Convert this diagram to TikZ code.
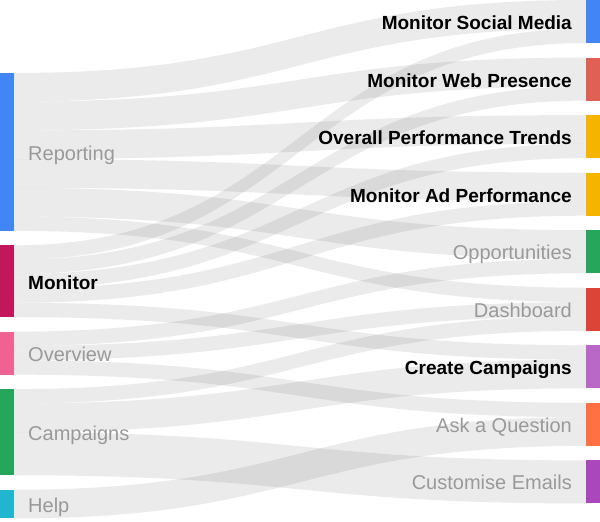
\documentclass[tikz,border=0pt]{standalone}
\usepackage{fontspec}
\setmainfont{Liberation Sans}
\definecolor{cRep}{HTML}{4285F4}
\definecolor{cMon}{HTML}{C2185B}
\definecolor{cOv}{HTML}{F06292}
\definecolor{cCamp}{HTML}{26A65B}
\definecolor{cHelp}{HTML}{22B5CF}
\definecolor{cMSM}{HTML}{4285F4}
\definecolor{cMWP}{HTML}{E06055}
\definecolor{cOPT}{HTML}{F4B400}
\definecolor{cMAP}{HTML}{F4B400}
\definecolor{cOpp}{HTML}{26A65B}
\definecolor{cDash}{HTML}{DB4437}
\definecolor{cCC}{HTML}{BA68C8}
\definecolor{cAQ}{HTML}{FF7043}
\definecolor{cCE}{HTML}{AB47BC}
\definecolor{labgray}{HTML}{999999}
\tikzset{
  bar/.style={draw=none, inner sep=0pt, outer sep=0pt, minimum width=14pt, anchor=north west},
  lab/.style={font=\fontsize{20}{24}\selectfont, text=labgray, inner sep=0pt},
  blab/.style={font=\fontsize{19}{23}\selectfont\bfseries, text=black, inner sep=0pt},
  band/.style={fill=black, fill opacity=0.08, draw=none}
}
\newcommand\sband[4]{\fill[band] (14,#1) .. controls (300,#1) and (300,#3) .. (586,#3) -- (586,#4) .. controls (300,#4) and (300,#2) .. (14,#2) -- cycle;}
\begin{document}
\begin{tikzpicture}[x=1pt,y=-1pt]
\useasboundingbox (0,0) rectangle (600,522);
% Reporting
\sband{73.0}{101.7}{0.0}{28.7}
\sband{101.7}{130.4}{57.55}{86.25}
\sband{130.4}{159.1}{115.1}{143.8}
\sband{159.1}{187.8}{172.65}{201.35}
\sband{187.8}{216.5}{230.2}{258.9}
\sband{216.5}{230.85}{287.75}{302.1}
% Monitor
\sband{245.35}{259.7}{28.7}{43.05}
\sband{259.7}{274.05}{86.25}{100.6}
\sband{274.05}{288.4}{143.8}{158.15}
\sband{288.4}{302.75}{201.35}{215.7}
\sband{302.75}{317.1}{345.3}{359.65}
% Overview
\sband{331.6}{345.95}{258.9}{273.25}
\sband{345.95}{360.3}{302.1}{316.45}
\sband{360.3}{374.65}{402.85}{417.2}
% Campaigns
\sband{389.15}{403.5}{316.45}{330.8}
\sband{403.5}{432.2}{359.65}{388.35}
\sband{432.2}{475.25}{460.4}{503.45}
% Help
\sband{489.75}{518.45}{417.2}{445.9}
% left nodes
\node[bar, fill=cRep,  minimum height=157.85pt] (rep)  at (0,73.0) {};
\node[bar, fill=cMon,  minimum height=71.75pt]  (mon)  at (0,245.35) {};
\node[bar, fill=cOv,   minimum height=43.05pt]  (ov)   at (0,331.6) {};
\node[bar, fill=cCamp, minimum height=86.1pt]   (camp) at (0,389.15) {};
\node[bar, fill=cHelp, minimum height=28.7pt]   (help) at (0,489.75) {};
% right nodes
\node[bar, fill=cMSM,  minimum height=43.05pt] (msm)  at (586,0.0) {};
\node[bar, fill=cMWP,  minimum height=43.05pt] (mwp)  at (586,57.55) {};
\node[bar, fill=cOPT,  minimum height=43.05pt] (opt)  at (586,115.1) {};
\node[bar, fill=cMAP,  minimum height=43.05pt] (map)  at (586,172.65) {};
\node[bar, fill=cOpp,  minimum height=43.05pt] (opp)  at (586,230.2) {};
\node[bar, fill=cDash, minimum height=43.05pt] (dash) at (586,287.75) {};
\node[bar, fill=cCC,   minimum height=43.05pt] (cc)   at (586,345.3) {};
\node[bar, fill=cAQ,   minimum height=43.05pt] (aq)   at (586,402.85) {};
\node[bar, fill=cCE,   minimum height=43.05pt] (ce)   at (586,460.4) {};
% left labels
\node[lab,  anchor=base west] (lrep)  at (28,160.4) {Reporting};
\node[blab, anchor=base west] (lmon)  at (28,289.2) {Monitor};
\node[lab,  anchor=base west] (lov)   at (28,361.1) {Overview};
\node[lab,  anchor=base west] (lcamp) at (28,440.2) {Campaigns};
\node[lab,  anchor=base west] (lhelp) at (28,512.1) {Help};
% right labels
\node[blab, anchor=base east] (lmsm)  at (572,29.5) {Monitor Social Media};
\node[blab, anchor=base east] (lmwp)  at (572,87.1) {Monitor Web Presence};
\node[blab, anchor=base east] (lopt)  at (572,144.6) {Overall Performance Trends};
\node[blab, anchor=base east] (lmap)  at (572,202.2) {Monitor Ad Performance};
\node[lab,  anchor=base east] (lopp)  at (572,259.7) {Opportunities};
\node[lab,  anchor=base east] (ldash) at (572,317.3) {Dashboard};
\node[blab, anchor=base east] (lcc)   at (572,374.8) {Create Campaigns};
\node[lab,  anchor=base east] (laq)   at (572,432.4) {Ask a Question};
\node[lab,  anchor=base east] (lce)   at (572,489.9) {Customise Emails};
\end{tikzpicture}
\end{document}
